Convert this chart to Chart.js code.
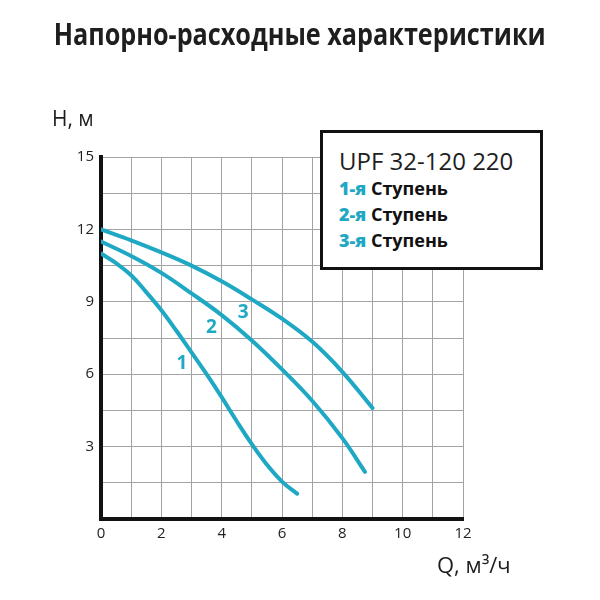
<!DOCTYPE html>
<html lang="ru">
<head>
<meta charset="utf-8">
<title>Напорно-расходные характеристики</title>
<script src="https://cdn.jsdelivr.net/npm/chart.js@4"></script>
<style>
    html, body { margin: 0; padding: 0; background: #fff; }
    #wrap { position: relative; width: 600px; height: 600px; overflow: hidden; font-family: "Open Sans", sans-serif; color: #1a1a1a; }
    #pump-chart { position: absolute; left: 0; top: 0; }
    .title { position: absolute; left: 0; top: 13px; width: 600px; text-align: center;
             font: bold 30px "Open Sans", sans-serif; color: #1e1e1e; white-space: nowrap; }
    .title span { display: inline-block; transform-origin: center; }
    .ax { position: absolute; font: 21px "Open Sans", sans-serif; color: #1e1e1e; white-space: nowrap; }
    .legend-box { position: absolute; left: 320px; top: 130px; width: 217px; height: 134px;
                  border: 3px solid #111; background: #fff; }
    .legend-box .model { position: absolute; left: 16px; top: 11px; font: 24px "Open Sans", sans-serif; color: #1e1e1e; white-space: nowrap; }
    .legend-box .step { position: absolute; left: 16px; font: bold 18px "Open Sans", sans-serif; color: #111; white-space: nowrap; }
    .legend-box .step b { color: #1fa8c4; }
</style>
</head>
<body>
<div id="wrap">
    <canvas id="pump-chart" width="600" height="600"></canvas>
    <div class="title"><span id="title-text">Напорно-расходные характеристики</span></div>
    <div class="ax" style="left:52px; top:104px;">H, м</div>
    <div class="ax" style="left:437px; top:549px; font-size:22px;">Q, м³/ч</div>
    <div class="legend-box">
        <div class="model">UPF 32-120 220</div>
        <div class="step" style="top:43px;"><b>1-я</b> Ступень</div>
        <div class="step" style="top:69px;"><b>2-я</b> Ступень</div>
        <div class="step" style="top:95px;"><b>3-я</b> Ступень</div>
    </div>
</div>
<script>
(function () {
    'use strict';

    /* ------------------------------------------------------------------
       Dati (Q m³/h, H m)
    ------------------------------------------------------------------ */
    var stageNames = ['1', '2', '3'];

    var flow1 = [0, 0.5, 1, 1.5, 2, 2.5, 3, 3.5, 4, 4.5, 5, 5.5, 6, 6.5];
    var head1 = [11, 10.6, 10.1, 9.4, 8.65, 7.8, 6.9, 6.0, 5.05, 4.05, 3.1, 2.25, 1.55, 1.05];

    var flow2 = [0, 1, 2, 3, 4, 5, 6, 7, 8, 8.75];
    var head2 = [11.5, 10.9, 10.2, 9.35, 8.45, 7.4, 6.2, 4.9, 3.35, 1.95];

    var flow3 = [0, 1, 2, 3, 4, 5, 6, 7, 8, 9];
    var head3 = [12, 11.55, 11.05, 10.5, 9.85, 9.1, 8.3, 7.35, 6.1, 4.6];

    var xTicks = [0, 2, 4, 6, 8, 10, 12];
    var yTicks = [3, 6, 9, 12, 15];

    // punti dove stanno i numeri delle curve (in unità del grafico)
    var tagSpots = [
        { x: 2.68, y: 6.45 },
        { x: 3.66, y: 7.95 },
        { x: 4.71, y: 8.55 }
    ];

    var teal = '#1fa8c4';

    function toPoints(xs, ys) {
        return xs.map(function (v, i) { return { x: v, y: ys[i] }; });
    }

    function curve(label, xs, ys) {
        return {
            label          : label,
            data           : toPoints(xs, ys),
            borderColor    : teal,
            borderWidth    : 4,
            borderCapStyle : 'round',
            pointRadius    : 0,
            tension        : 0.4,
            fill           : false
        };
    }

    /* ------------------------------------------------------------------
       Numeri 1/2/3 sulle curve
    ------------------------------------------------------------------ */
    var curveTags = {
        id: 'curveTags',
        afterDatasetsDraw: function (chart) {
            var ctx = chart.ctx;
            var sx  = chart.scales.x;
            var sy  = chart.scales.y;
            ctx.save();
            ctx.fillStyle    = teal;
            ctx.font         = 'bold 19px "Open Sans", sans-serif';
            ctx.textAlign    = 'center';
            ctx.textBaseline = 'middle';
            stageNames.forEach(function (n, i) {
                ctx.fillText(n, sx.getPixelForValue(tagSpots[i].x), sy.getPixelForValue(tagSpots[i].y));
            });
            ctx.restore();
        }
    };

    var tickFont = { family: '"Open Sans", sans-serif', size: 15 };

    new Chart(document.getElementById('pump-chart').getContext('2d'), {
        type: 'line',
        data: {
            datasets: [
                curve('1-я Ступень', flow1, head1),
                curve('2-я Ступень', flow2, head2),
                curve('3-я Ступень', flow3, head3)
            ]
        },
        options: {
            responsive : false,
            animation  : false,
            layout     : { padding: { left: 0, top: 157, right: 137, bottom: 0 } },
            plugins    : { legend: { display: false }, tooltip: { enabled: false } },
            scales     : {
                x: {
                    type : 'linear',
                    min  : 0,
                    max  : 12,
                    grid : { color: '#a3a3a3', lineWidth: 1, drawTicks: false },
                    border: { color: '#111', width: 4 },
                    ticks: {
                        stepSize: 1,
                        padding : 6,
                        color   : '#222',
                        font    : tickFont,
                        maxRotation: 0,
                        autoSkip: false,
                        callback: function (v) { return xTicks.indexOf(v) >= 0 ? String(v) : ''; }
                    },
                    afterFit: function (s) { s.height = 81; }
                },
                y: {
                    min  : 0,
                    max  : 15,
                    grid : { color: '#a3a3a3', lineWidth: 1, drawTicks: false },
                    border: { color: '#111', width: 4 },
                    ticks: {
                        stepSize: 1.5,
                        padding : 7,
                        color   : '#222',
                        font    : tickFont,
                        autoSkip: false,
                        callback: function (v) {
                            var r = Math.round(v * 10) / 10;
                            return yTicks.indexOf(r) >= 0 ? String(r) : '';
                        }
                    },
                    afterFit: function (s) { s.width = 101; }
                }
            }
        },
        plugins: [curveTags]
    });

    // titolo stretto come nell'originale
    var t = document.getElementById('title-text');
    var w = t.getBoundingClientRect().width;
    if (w > 0) t.style.transform = 'scaleX(' + (492 / w) + ')';
})();
</script>
</body>
</html>
